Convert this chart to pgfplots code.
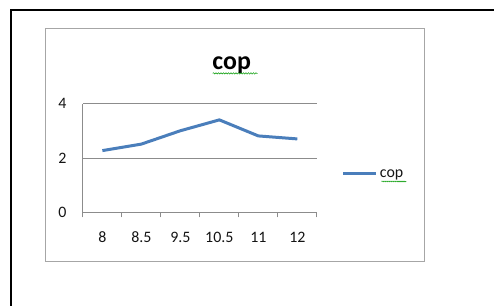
\documentclass[border=0pt]{standalone}
\usepackage{pgfplots}
\pgfplotsset{compat=1.18}
\usepackage{fontspec}
\setmainfont{Carlito}
\usetikzlibrary{decorations.pathmorphing}
\definecolor{serblue}{HTML}{4A7EBB}
\definecolor{axgray}{HTML}{8C8C8C}
\definecolor{boxgray}{HTML}{A6A6A6}
\definecolor{txt}{HTML}{141414}
\begin{document}
\begin{tikzpicture}[x=1bp,y=1bp]
\path (0,0) rectangle (495,306);
% outer page frame
\draw[black,line width=1.5bp] (11,0) -- (11,296) -- (495,296);
% chart area frame
\draw[boxgray,line width=1bp] (45.7,44) rectangle (425,277);
\begin{axis}[
  at={(83bp,93.3bp)}, anchor=south west,
  scale only axis, width=234.3bp, height=109bp,
  xmin=-0.5, xmax=5.5, ymin=0, ymax=4,
  axis x line*=bottom, axis y line*=left,
  axis line style={axgray, line width=0.8bp, -},
  xtick={0,...,5},
  xticklabels={8,8.5,9.5,10.5,11,12},
  major x tick style={draw=none},
  minor xtick={-0.5,0.5,...,5.5},
  minor x tick style={axgray, line width=0.8bp},
  minor tick length=5bp,
  tick align=outside,
  ytick={0,2,4},
  major y tick style={draw=none},
  ymajorgrids, grid style={axgray, line width=0.8bp},
  tick label style={font=\fontsize{16}{18}\selectfont, text=txt, inner sep=0pt},
  xticklabel style={anchor=north, yshift=-15bp},
  yticklabel style={anchor=east, xshift=-12bp},
  /pgf/number format/assume math mode=true,
  legend style={draw=none, fill=none, at={(1,0.5)}, anchor=west, xshift=25bp, yshift=-16bp,
    font=\fontsize{16}{18}\selectfont, inner sep=0pt, text=txt},
  legend image code/.code={\draw[#1] (0bp,0bp) -- (33bp,0bp);},
  clip=false,
]
\addplot[serblue, line width=3bp] coordinates {
  (0,2.27) (1,2.51) (2,3.00) (3,3.40) (4,2.81) (5,2.70)
};
\addlegendentry{cop}
\end{axis}
\node[anchor=base, font=\fontsize{26}{30}\selectfont\bfseries, inner sep=0pt] at (232,236.7) {cop};
\draw[green!60!black, line width=0.5bp, decorate, decoration={snake, amplitude=0.7bp, segment length=2.5bp}] (213,232.5) -- (258,232.5);
\draw[green!60!black, line width=0.5bp, decorate, decoration={snake, amplitude=0.5bp, segment length=2bp}] (382,124.3) -- (407,124.3);
\end{tikzpicture}
\end{document}
